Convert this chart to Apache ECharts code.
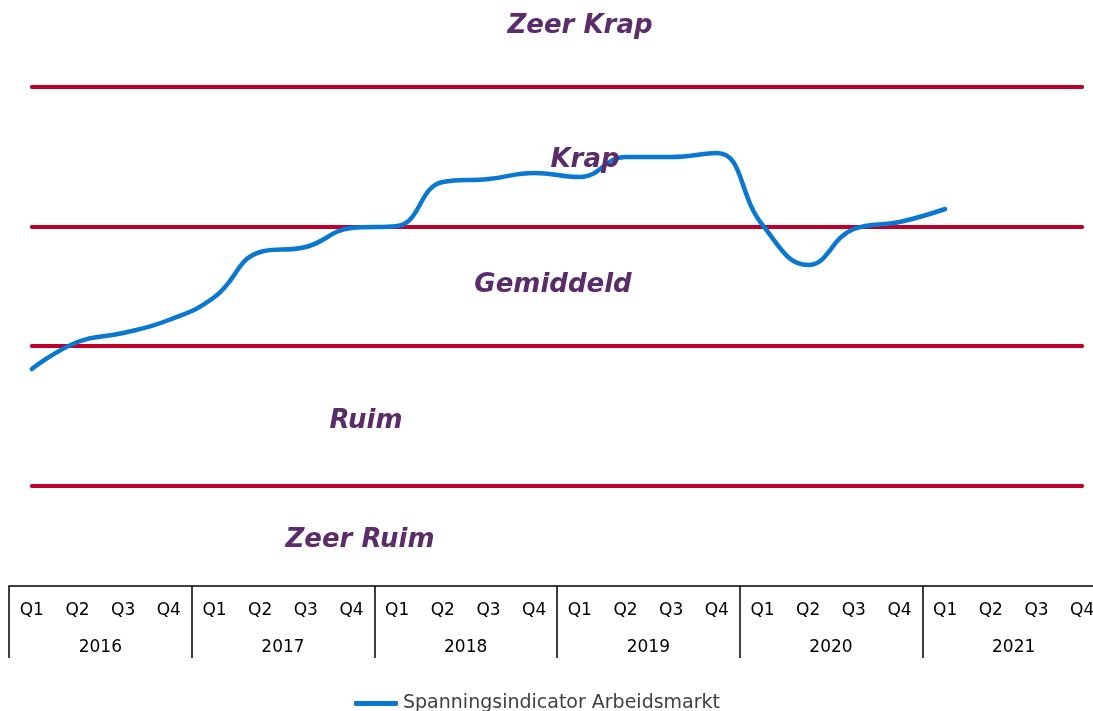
<!DOCTYPE html>
<html>
<head>
<meta charset="utf-8">
<script src="https://cdn.jsdelivr.net/npm/echarts@6/dist/echarts.min.js"></script>
<style>
html,body{margin:0;padding:0;background:#fff;overflow:hidden;width:1093px;height:711px;}
#chart{width:1110px;height:711px;}
</style>
</head>
<body>
<div id="chart"></div>
<script>
// ---- data ----
const years = ['2016', '2017', '2018', '2019', '2020', '2021'];
const quarters = ['Q1', 'Q2', 'Q3', 'Q4'];
const seriesName = 'Spanningsindicator Arbeidsmarkt';
const indicatorValues = [
  21.7, 24.4, 25.3, 26.6,
  28.9, 33.4, 33.9, 35.8,
  36.0, 40.4, 40.7, 41.3,
  40.9, 42.9, 42.9, 43.3,
  36.1, 32.1, 35.7, 36.4,
  37.7
];
const bandThresholds = [10.0, 24.0, 35.9, 49.9];
const bandLabels = ['Zeer Ruim', 'Ruim', 'Gemiddeld', 'Krap', 'Zeer Krap'];

// ---- build ----
const categories = [];
years.forEach(y => quarters.forEach(q => categories.push(q + '|' + y)));

const chart = echarts.init(document.getElementById('chart'), null, {renderer: 'canvas'});

const thresholdSeries = bandThresholds.map((t, i) => ({
  name: 'grens' + i,
  type: 'line',
  xAxisIndex: 0,
  data: categories.map(() => t),
  symbol: 'none',
  silent: true,
  lineStyle: {color: '#c00028', width: 4, cap: 'round'},
  z: 2
}));

const labelFont = {fontFamily: 'DejaVu Sans', fontSize: 26, fontWeight: 'bold', fontStyle: 'italic', fill: '#5b2c6a'};
const labelPos = [
  [360, 540], [366, 421], [553, 285], [585, 160], [580, 26]
];
const graphics = bandLabels.map((txt, i) => ({
  type: 'text',
  x: labelPos[i][0],
  y: labelPos[i][1],
  z: 100,
  style: Object.assign({text: txt, textAlign: 'center', textVerticalAlign: 'middle'}, labelFont)
}));

chart.setOption({
  animation: false,
  backgroundColor: '#fff',
  grid: {left: 9, top: 46, width: 1096, height: 540, containLabel: false},
  legend: {
    data: [seriesName],
    top: 689,
    left: 349,
    icon: 'roundRect',
    itemWidth: 44,
    itemHeight: 5,
    itemGap: 5,
    textStyle: {fontFamily: 'DejaVu Sans', fontSize: 19, color: '#404040'}
  },
  xAxis: [
    {
      type: 'category',
      data: categories,
      boundaryGap: true,
      position: 'bottom',
      axisLine: {show: true, lineStyle: {color: '#000', width: 1.5}},
      axisTick: {
        show: true,
        length: 72,
        interval: function (idx) { return idx % 4 === 0; },
        lineStyle: {color: '#000', width: 1.5}
      },
      axisLabel: {
        interval: 0,
        margin: 16,
        fontFamily: 'DejaVu Sans',
        fontSize: 17,
        color: '#000',
        formatter: v => v.split('|')[0]
      }
    },
    {
      type: 'category',
      data: years,
      position: 'bottom',
      boundaryGap: true,
      axisLine: {show: false},
      axisTick: {show: false},
      axisLabel: {
        interval: 0,
        margin: 53,
        fontFamily: 'DejaVu Sans',
        fontSize: 17,
        color: '#000'
      }
    }
  ],
  yAxis: {
    type: 'value',
    min: 0,
    max: 54,
    show: false,
    splitLine: {show: false}
  },
  series: thresholdSeries.concat([{
    name: seriesName,
    type: 'line',
    xAxisIndex: 0,
    data: indicatorValues,
    smooth: 0.45,
    symbol: 'none',
    lineStyle: {color: '#0a78d2', width: 4.5, cap: 'round'},
    itemStyle: {color: '#0a78d2'},
    z: 5
  }]),
  graphic: graphics
});
</script>
</body>
</html>
